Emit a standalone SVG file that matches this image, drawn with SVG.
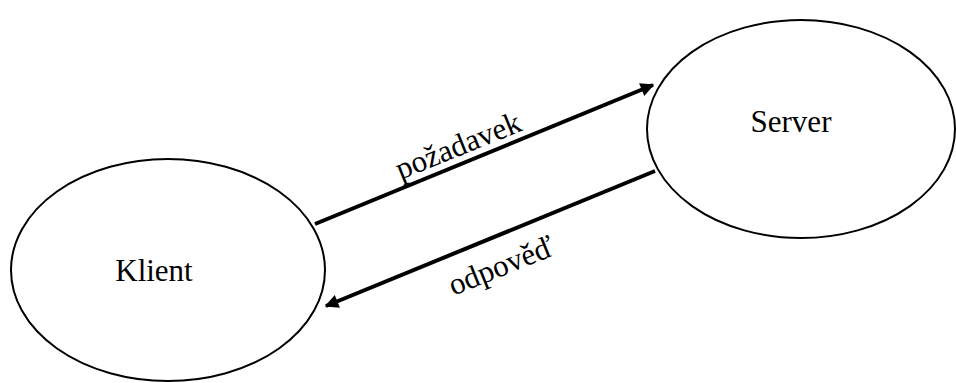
<svg xmlns="http://www.w3.org/2000/svg" width="956" height="383" viewBox="0 0 956 383">
  <style>
    .node { fill: #ffffff; stroke: #000000; stroke-width: 2; }
    .label { font-family: "Liberation Serif", "Times New Roman", serif; fill: #000000; }
    .name { font-size: 31px; text-anchor: middle; }
    .edge-label { font-size: 31px; text-anchor: middle; }
    .edge { stroke: #000000; stroke-width: 4; fill: none; marker-end: url(#arrow); }
  </style>
  <defs>
    <marker id="arrow" viewBox="0 0 10 10" refX="9" refY="5" markerWidth="4.2" markerHeight="3.4" orient="auto" markerUnits="strokeWidth">
      <path d="M0,0 L10,5 L0,10 Z" fill="#000000"/>
    </marker>
  </defs>
  <rect width="956" height="383" fill="#ffffff"/>

  <!-- client node -->
  <g id="klient">
    <ellipse class="node" cx="168" cy="270" rx="157" ry="111"/>
    <text class="label name" x="154" y="281">Klient</text>
  </g>

  <!-- server node -->
  <g id="server">
    <ellipse class="node" cx="801" cy="129" rx="154" ry="109"/>
    <text class="label name" x="791" y="132">Server</text>
  </g>

  <!-- request / response arrows with their labels -->
  <g id="connectors">
    <line class="edge" x1="315" y1="224" x2="653" y2="85"/>
    <line class="edge" x1="655" y1="171" x2="326" y2="306"/>
    <text class="label edge-label" transform="translate(462,155) rotate(-22)">požadavek</text>
    <text class="label edge-label" transform="translate(505,275) rotate(-22)">odpověď</text>
  </g>
</svg>
